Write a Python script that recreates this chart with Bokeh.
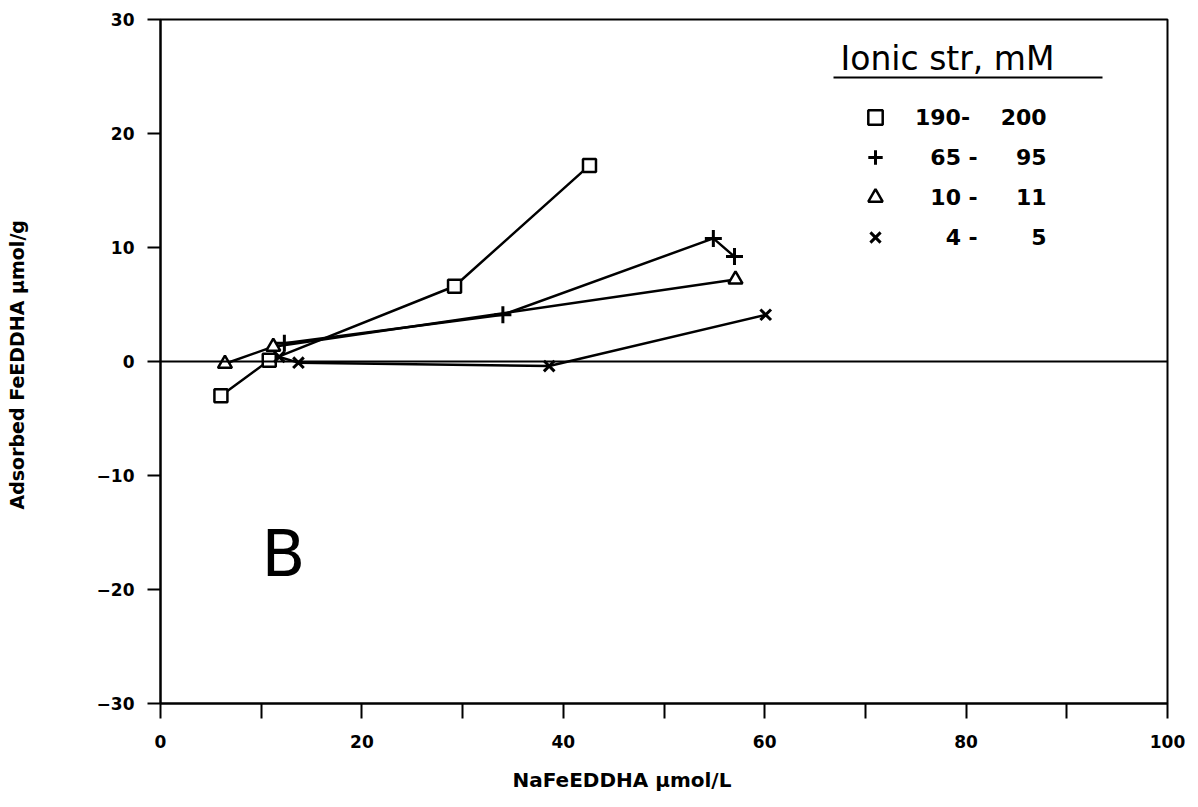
import math
from bokeh.plotting import figure
from bokeh.models import (Range1d, FixedTicker, Span, Label, Legend, LegendItem,
                          BoxAnnotation, Title)
from bokeh.embed import file_html
from bokeh.resources import INLINE

# ---- data ----
sq_x = [6.0, 10.8, 29.2, 42.6]
sq_y = [-3.0, 0.1, 6.6, 17.2]
plus_x = [12.3, 34.0, 54.9, 57.0]
plus_y = [1.6, 4.1, 10.8, 9.2]
tri_x = [6.4, 11.2, 57.1]
tri_y = [-0.2, 1.3, 7.2]
xx_x = [11.8, 13.7, 38.6, 60.1]
xx_y = [0.4, -0.1, -0.4, 4.1]

legend_labels = ["190-    200", "  65 -     95", "  10 -     11", "    4 -       5"]
x_ticks = [0, 20, 40, 60, 80, 100]
x_minor = [10, 30, 50, 70, 90]
y_ticks = [-30, -20, -10, 0, 10, 20, 30]
y_tick_labels = ["\u221230", "\u221220", "\u221210", "0", "10", "20", "30"]

FONT = "DejaVu Sans"

p = figure(width=1198, height=807, output_backend="svg", toolbar_location=None,
           x_range=Range1d(0, 100), y_range=Range1d(-30, 30),
           min_border_left=160, min_border_right=31, min_border_top=19,
           min_border_bottom=104)
p.background_fill_color = "white"
p.border_fill_color = "white"
p.grid.visible = False
p.outline_line_color = "black"
p.outline_line_width = 2

# axes
xa = p.xaxis[0]
xa.ticker = FixedTicker(ticks=x_ticks, minor_ticks=x_minor)
xa.axis_line_width = 2
xa.major_tick_line_width = 2
xa.minor_tick_line_width = 2
xa.major_tick_in = 0
xa.major_tick_out = 15
xa.minor_tick_in = 0
xa.minor_tick_out = 15
xa.major_label_standoff = 16
xa.major_label_text_font = FONT
xa.major_label_text_font_style = "bold"
xa.major_label_text_font_size = "17px"
xa.major_label_text_color = "black"

ya = p.yaxis[0]
ya.ticker = FixedTicker(ticks=y_ticks, minor_ticks=[])
ya.major_label_overrides = {t: l for t, l in zip(y_ticks, y_tick_labels)}
ya.axis_line_width = 2
ya.major_tick_line_width = 2
ya.major_tick_in = 0
ya.major_tick_out = 13
ya.minor_tick_out = 0
ya.major_label_standoff = 13
ya.major_label_text_font = FONT
ya.major_label_text_font_style = "bold"
ya.major_label_text_font_size = "17px"
ya.major_label_text_color = "black"
ya.axis_label = "Adsorbed FeEDDHA  \u00b5mol/g"
ya.axis_label_text_font = FONT
ya.axis_label_text_font_style = "bold"
ya.axis_label_text_font_size = "19px"
ya.axis_label_text_color = "black"
ya.axis_label_standoff = 66

# x axis title, placed below and shifted as in the reference
p.add_layout(Title(text="NaFeEDDHA  \u00b5mol/L", align="left", offset=352,
                   standoff=30, text_font=FONT, text_font_style="bold",
                   text_font_size="20px", text_color="black"), "below")

# zero line
p.add_layout(Span(location=0, dimension="width", line_color="black", line_width=2))

LW = 2.5
p.line(sq_x, sq_y, line_color="black", line_width=LW)
p.line(plus_x, plus_y, line_color="black", line_width=LW)
p.line(tri_x, tri_y, line_color="black", line_width=LW)
p.line(xx_x, xx_y, line_color="black", line_width=LW)

r_sq = p.scatter(sq_x, sq_y, marker="square", size=13, line_color="black",
                 line_width=2.5, fill_color="white")
r_pl = p.scatter(plus_x, plus_y, marker="cross", size=17, line_color="black",
                 line_width=3)
r_tr = p.scatter(tri_x, tri_y, marker="triangle", size=14, line_color="black",
                 line_width=2.5, fill_color="white")
r_xx = p.scatter(xx_x, xx_y, marker="x", size=15, line_color="black",
                 line_width=3)

legend = Legend(items=[LegendItem(label=legend_labels[0], renderers=[r_sq]),
                       LegendItem(label=legend_labels[1], renderers=[r_pl]),
                       LegendItem(label=legend_labels[2], renderers=[r_tr]),
                       LegendItem(label=legend_labels[3], renderers=[r_xx])],
                location=(697, 448), orientation="vertical",
                border_line_color=None, background_fill_alpha=0,
                padding=0, margin=0, spacing=4, glyph_width=36, glyph_height=36,
                label_height=36, label_standoff=22,
                label_text_font=FONT, label_text_font_style="bold",
                label_text_font_size="22px", label_text_color="black")
p.add_layout(legend)

# legend title with underline
p.add_layout(Label(x=680, y=645, x_units="screen", y_units="screen",
                   text="Ionic  str,  mM", text_font=FONT, text_font_size="33px",
                   text_baseline="middle", text_align="left", text_color="black"))
p.add_layout(BoxAnnotation(left=673, right=942, bottom=625, top=627,
                           left_units="screen", right_units="screen",
                           bottom_units="screen", top_units="screen",
                           fill_color="black", fill_alpha=1, line_color=None))

# panel letter
p.add_layout(Label(x=123, y=150, x_units="screen", y_units="screen", text="B",
                   text_font=FONT, text_font_size="64px", text_align="center",
                   text_baseline="middle", text_color="black"))

open("out.html", "w").write(file_html(p, INLINE))
